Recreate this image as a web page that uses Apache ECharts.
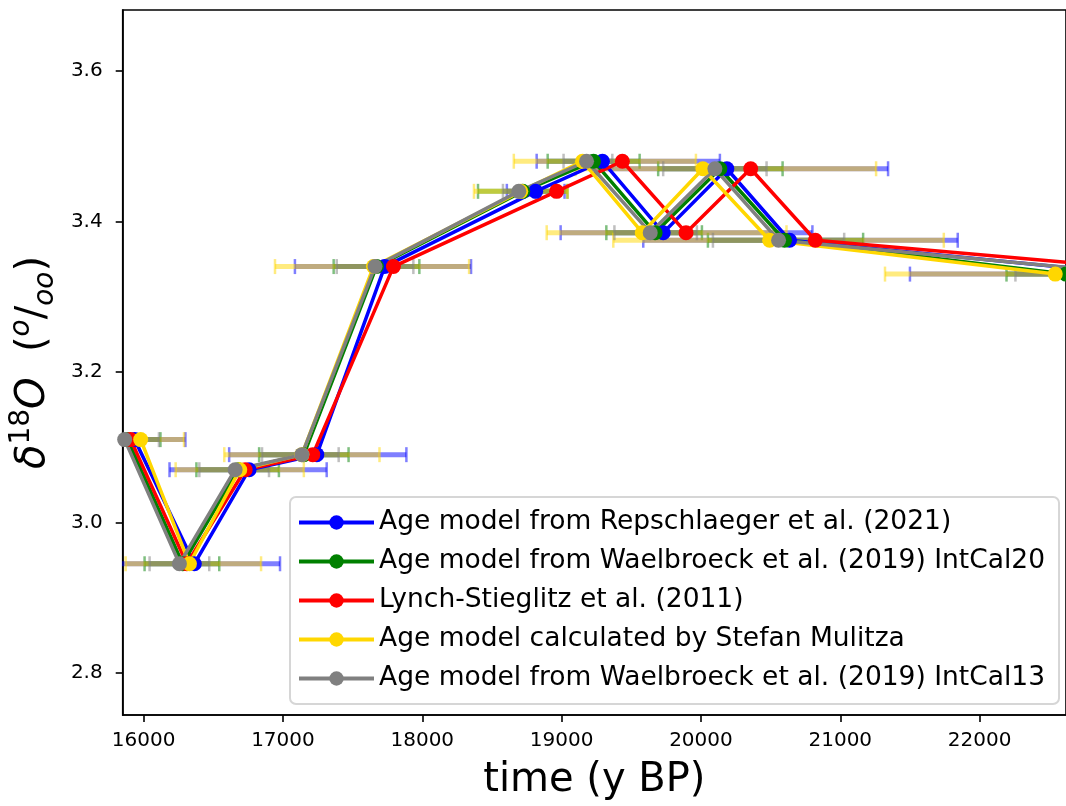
<!DOCTYPE html>
<html>
<head>
<meta charset="utf-8">
<script src="https://cdn.jsdelivr.net/npm/echarts@6/dist/echarts.min.js"></script>
<style>
html,body{margin:0;padding:0;background:#fff;}
#c{width:1066px;height:806px;}
</style>
</head>
<body>
<div id="c"></div>
<script>
// δ18O values (same samples for every age model)
const d18O = [3.11, 2.945, 3.07, 3.09, 3.34, 3.44, 3.48, 3.385, 3.47, 3.375, 3.33];

// Repschlaeger et al. (2021)
const repAge = [15936, 16364, 16757, 17243, 17730, 18814, 19293, 19729, 20186, 20636, 23100];
const repLo  = [15572, 15750, 16186, 16614, 17086, 18607, 18821, 18993, 19250, 19586, 21500];
const repHi  = [16300, 16979, 17314, 17886, 18350, 19021, 20136, 20800, 21343, 21843, 24700];

// Waelbroeck et al. (2019) IntCal20
const w20Age = [15886, 16280, 16680, 17150, 17671, 18721, 19229, 19671, 20136, 20600, 22620];
const w20Lo  = [15651, 16007, 16379, 16829, 17364, 18400, 18900, 19321, 19693, 20050, 22193];
const w20Hi  = [16121, 16543, 16971, 17471, 17979, 19042, 19560, 20007, 20586, 21164, 23050];

// Lynch-Stieglitz et al. (2011)
const lsAge = [15907, 16310, 16729, 17214, 17793, 18964, 19436, 19893, 20357, 20821, 23600];

// Stefan Mulitza
const mulAge = [15979, 16329, 16690, 17136, 17650, 18707, 19150, 19579, 20014, 20493, 22543];
const mulLo  = [15660, 15871, 16230, 16579, 16943, 18371, 18657, 18893, 19100, 19371, 21321];
const mulHi  = [16290, 16843, 17150, 17693, 18336, 19043, 19964, 20614, 21257, 21743, 23800];

// Waelbroeck et al. (2019) IntCal13
const w13Age = [15864, 16257, 16657, 17136, 17661, 18693, 19179, 19636, 20100, 20557, 23150];
const w13Lo  = [15620, 16043, 16400, 16850, 17386, 18579, 19014, 19379, 19729, 20086, 22257];
const w13Hi  = [16110, 16471, 16900, 17400, 17936, 18807, 19364, 19971, 20471, 21028, 24050];

const xTicks = [16000, 17000, 18000, 19000, 20000, 21000, 22000];
const yTicks = [2.8, 3.0, 3.2, 3.4, 3.6];

const names = [
  'Age model from Repschlaeger et al. (2021)',
  'Age model from Waelbroeck et al. (2019) IntCal20',
  'Lynch-Stieglitz et al. (2011)',
  'Age model calculated by Stefan Mulitza',
  'Age model from Waelbroeck et al. (2019) IntCal13'
];
const colors = ['#0000ff', '#008000', '#ff0000', '#ffd700', '#808080'];
const ages = [repAge, w20Age, lsAge, mulAge, w13Age];
const los = [repLo, w20Lo, null, mulLo, w13Lo];
const his = [repHi, w20Hi, null, mulHi, w13Hi];

const FONT = 'DejaVu Sans';

function hexToRgba(hex, a) {
  const n = parseInt(hex.slice(1), 16);
  return 'rgba(' + ((n >> 16) & 255) + ',' + ((n >> 8) & 255) + ',' + (n & 255) + ',' + a + ')';
}

const series = [];
// error bars first
for (let s = 0; s < 5; s++) {
  if (!los[s]) continue;
  const col = hexToRgba(colors[s], 0.5);
  const data = d18O.map((y, i) => [ages[s][i], y, los[s][i], his[s][i]]);
  series.push({
    type: 'custom',
    name: 'err' + s,
    clip: true,
    z: 1,
    silent: true,
    encode: {x: 0, y: 1},
    data: data,
    renderItem: function (params, api) {
      const y = api.value(1);
      const p1 = api.coord([api.value(2), y]);
      const p2 = api.coord([api.value(3), y]);
      const h = 7.5;
      return {
        type: 'group',
        children: [
          {type: 'line', shape: {x1: p1[0], y1: p1[1], x2: p2[0], y2: p2[1]}, style: {stroke: col, lineWidth: 5}},
          {type: 'line', shape: {x1: p1[0], y1: p1[1] - h, x2: p1[0], y2: p1[1] + h}, style: {stroke: col, lineWidth: 2.5}},
          {type: 'line', shape: {x1: p2[0], y1: p2[1] - h, x2: p2[0], y2: p2[1] + h}, style: {stroke: col, lineWidth: 2.5}}
        ]
      };
    }
  });
}
// lines
for (let s = 0; s < 5; s++) {
  series.push({
    type: 'line',
    name: names[s],
    z: 2,
    data: d18O.map((y, i) => [ages[s][i], y]),
    symbol: 'circle',
    symbolSize: 15,
    showSymbol: true,
    clip: true,
    lineStyle: {color: colors[s], width: 3.5},
    itemStyle: {color: colors[s], borderWidth: 0},
    emphasis: {disabled: true}
  });
}

const chart = echarts.init(document.getElementById('c'), null, {renderer: 'canvas'});
chart.setOption({
  animation: false,
  backgroundColor: '#ffffff',
  textStyle: {fontFamily: FONT},
  grid: {
    left: 120, top: 10, right: -2, bottom: 87,
    show: true, borderColor: '#000', borderWidth: 1.6, backgroundColor: 'transparent'
  },
  legend: {
    data: names,
    orient: 'vertical',
    left: 290, top: 497,
    padding: [12, 14, 12, 7],
    itemGap: 12,
    itemWidth: 75,
    itemHeight: 18,
    backgroundColor: '#ffffff',
    borderColor: '#d6d6d6',
    borderWidth: 2,
    borderRadius: 6,
    lineStyle: {width: 4},
    textStyle: {fontFamily: FONT, fontSize: 26.5, color: '#000', lineHeight: 27}
  },
  xAxis: {
    type: 'value',
    min: 15850, max: 22620,
    name: 'time (y BP)',
    nameLocation: 'middle',
    nameGap: 46,
    nameTextStyle: {fontFamily: FONT, fontSize: 40, color: '#000'},
    axisLine: {show: true, onZero: false, lineStyle: {color: '#000', width: 1.6}},
    axisTick: {show: true, inside: false, length: 7, lineStyle: {color: '#000', width: 1.6}, customValues: xTicks},
    axisLabel: {customValues: xTicks, fontFamily: FONT, fontSize: 20, color: '#000', margin: 16,
      formatter: v => String(Math.round(v))},
    splitLine: {show: false}
  },
  yAxis: {
    type: 'value',
    min: 2.744, max: 3.681,
    name: '{i|δ}{sup|18}{i|O}{n|  (}{sup2|o}{n|/}{sub|oo}{n|)}',
    nameLocation: 'middle',
    nameRotate: 90,
    nameGap: 48,
    nameTextStyle: {
      fontFamily: FONT, fontSize: 40, color: '#000',
      rich: {
        i: {fontFamily: FONT, fontSize: 40, fontStyle: 'italic', lineHeight: 52, color: '#000'},
        n: {fontFamily: FONT, fontSize: 40, lineHeight: 52, color: '#000'},
        sup: {fontFamily: FONT, fontSize: 28, lineHeight: 22, verticalAlign: 'top', color: '#000'},
        sup2: {fontFamily: FONT, fontSize: 28, fontStyle: 'italic', lineHeight: 22, verticalAlign: 'top', color: '#000'},
        sub: {fontFamily: FONT, fontSize: 28, fontStyle: 'italic', lineHeight: 22, verticalAlign: 'bottom', color: '#000'}
      }
    },
    axisLine: {show: true, onZero: false, lineStyle: {color: '#000', width: 1.6}},
    axisTick: {show: true, inside: false, length: 7, lineStyle: {color: '#000', width: 1.6}, customValues: yTicks},
    axisLabel: {customValues: yTicks, fontFamily: FONT, fontSize: 20, color: '#000', margin: 20,
      formatter: v => v.toFixed(1)},
    splitLine: {show: false}
  },
  series: series
});
</script>
</body>
</html>
